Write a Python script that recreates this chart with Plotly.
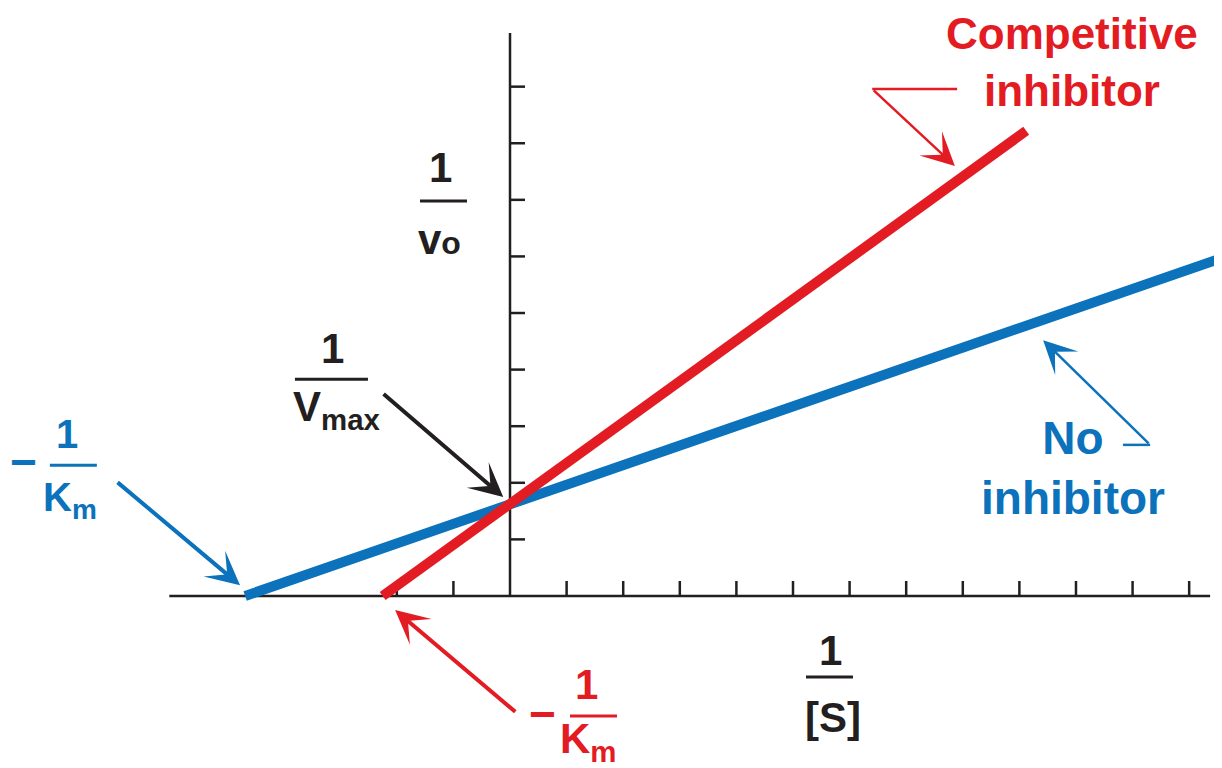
import plotly.graph_objects as go

# Lineweaver-Burk plot, axis units = one tick spacing
x_ticks = [-2, -1, 1, 2, 3, 4, 5, 6, 7, 8, 9, 10, 11, 12]
y_ticks = [1, 2, 3, 4, 5, 6, 7, 8, 9]
x_axis_span = [-6.02, 12.37]
y_axis_top = 9.95

no_inhib_x = [-4.68, 12.54]
no_inhib_y = [0.0, 5.96]
comp_x = [-2.25, 9.12]
comp_y = [0.0, 8.22]

RED = "#e31b23"
BLUE = "#0b72bb"
BLACK = "#231f20"
FONT = "Liberation Sans, Arial, sans-serif"
TICK = 0.265

fig = go.Figure()

fig.add_trace(go.Scatter(x=no_inhib_x, y=no_inhib_y, mode="lines",
                         line=dict(color=BLUE, width=10), hoverinfo="skip"))
fig.add_trace(go.Scatter(x=comp_x, y=comp_y, mode="lines",
                         line=dict(color=RED, width=10), hoverinfo="skip"))

shapes = []
# axes
shapes.append(dict(type="line", x0=x_axis_span[0], x1=x_axis_span[1], y0=0, y1=0,
                   line=dict(color=BLACK, width=2.5), layer="below"))
shapes.append(dict(type="line", x0=0, x1=0, y0=0, y1=y_axis_top,
                   line=dict(color=BLACK, width=2.5), layer="below"))
for t in x_ticks:
    shapes.append(dict(type="line", x0=t, x1=t, y0=0, y1=TICK,
                       line=dict(color=BLACK, width=2.5), layer="below"))
for t in y_ticks:
    shapes.append(dict(type="line", x0=0, x1=TICK, y0=t, y1=t,
                       line=dict(color=BLACK, width=2.5), layer="below"))

annotations = []


def text(x, y, s, color, size):
    annotations.append(dict(x=x, y=y, text=s, showarrow=False, xanchor="center", yanchor="middle",
                            font=dict(family=FONT, size=size, color=color)))


def bar(x0, x1, y, color):
    shapes.append(dict(type="line", x0=x0, x1=x1, y0=y, y1=y, line=dict(color=color, width=3)))


def arrow(tail, tip, color, width, size=1.4):
    annotations.append(dict(x=tip[0], y=tip[1], ax=tail[0], ay=tail[1], xref="x", yref="y",
                            axref="x", ayref="y", text="", showarrow=True, arrowhead=3,
                            arrowsize=size, arrowwidth=width, arrowcolor=color, standoff=0))


# 1 / v_o
text(-1.22, 7.58, "<b>1</b>", BLACK, 42)
bar(-1.59, -0.76, 6.98, BLACK)
text(-1.25, 6.30, "<b>v<span style='font-size:32px'>o</span></b>", BLACK, 42)

# 1 / [S]
text(5.67, -0.96, "<b>1</b>", BLACK, 42)
bar(5.23, 6.06, -1.43, BLACK)
text(5.71, -2.14, "<b>[S]</b>", BLACK, 42)

# 1 / Vmax
text(-3.13, 4.38, "<b>1</b>", BLACK, 42)
bar(-3.80, -2.51, 3.83, BLACK)
text(-3.07, 3.30, "<b>V<sub>max</sub></b>", BLACK, 42)
arrow((-2.26, 3.59), (-0.12, 1.75), BLACK, 4)

# -1/Km (no inhibitor)
text(-8.59, 2.37, "<b>−</b>", BLUE, 46)
text(-7.83, 2.87, "<b>1</b>", BLUE, 40)
bar(-8.13, -7.30, 2.31, BLUE)
text(-7.77, 1.70, "<b>K<sub>m</sub></b>", BLUE, 40)
arrow((-6.96, 2.03), (-4.77, 0.19), BLUE, 4)

# -1/Km (competitive)
text(0.58, -2.08, "<b>−</b>", RED, 46)
text(1.36, -1.56, "<b>1</b>", RED, 42)
bar(1.06, 1.89, -2.12, RED)
text(1.38, -2.57, "<b>K<sub>m</sub></b>", RED, 42)
arrow((0.12, -2.07), (-2.03, -0.25), RED, 4)

# series labels
text(9.93, 9.43, "<b>Competitive<br>inhibitor</b>", RED, 44)
shapes.append(dict(type="line", x0=6.40, x1=7.90, y0=8.96, y1=8.96, line=dict(color=RED, width=2.5)))
arrow((6.40, 8.96), (7.86, 7.60), RED, 2.5, 2.2)

text(9.95, 2.26, "<b>No<br>inhibitor</b>", BLUE, 46)
shapes.append(dict(type="line", x0=10.83, x1=11.31, y0=2.67, y1=2.67, line=dict(color=BLUE, width=2.5)))
arrow((11.31, 2.67), (9.42, 4.52), BLUE, 2.5, 2.2)

# page body has an 8px margin, so the figure is 8px smaller and the ranges start 8px in
fig.update_layout(
    width=1214, height=760,
    margin=dict(l=0, r=0, t=0, b=0),
    plot_bgcolor="white", paper_bgcolor="white",
    showlegend=False,
    shapes=shapes, annotations=annotations,
    xaxis=dict(range=[-8.87, 12.58], visible=False, fixedrange=True),
    yaxis=dict(range=[-3.04, 10.39], visible=False, fixedrange=True),
)

fig.write_html("out.html")
